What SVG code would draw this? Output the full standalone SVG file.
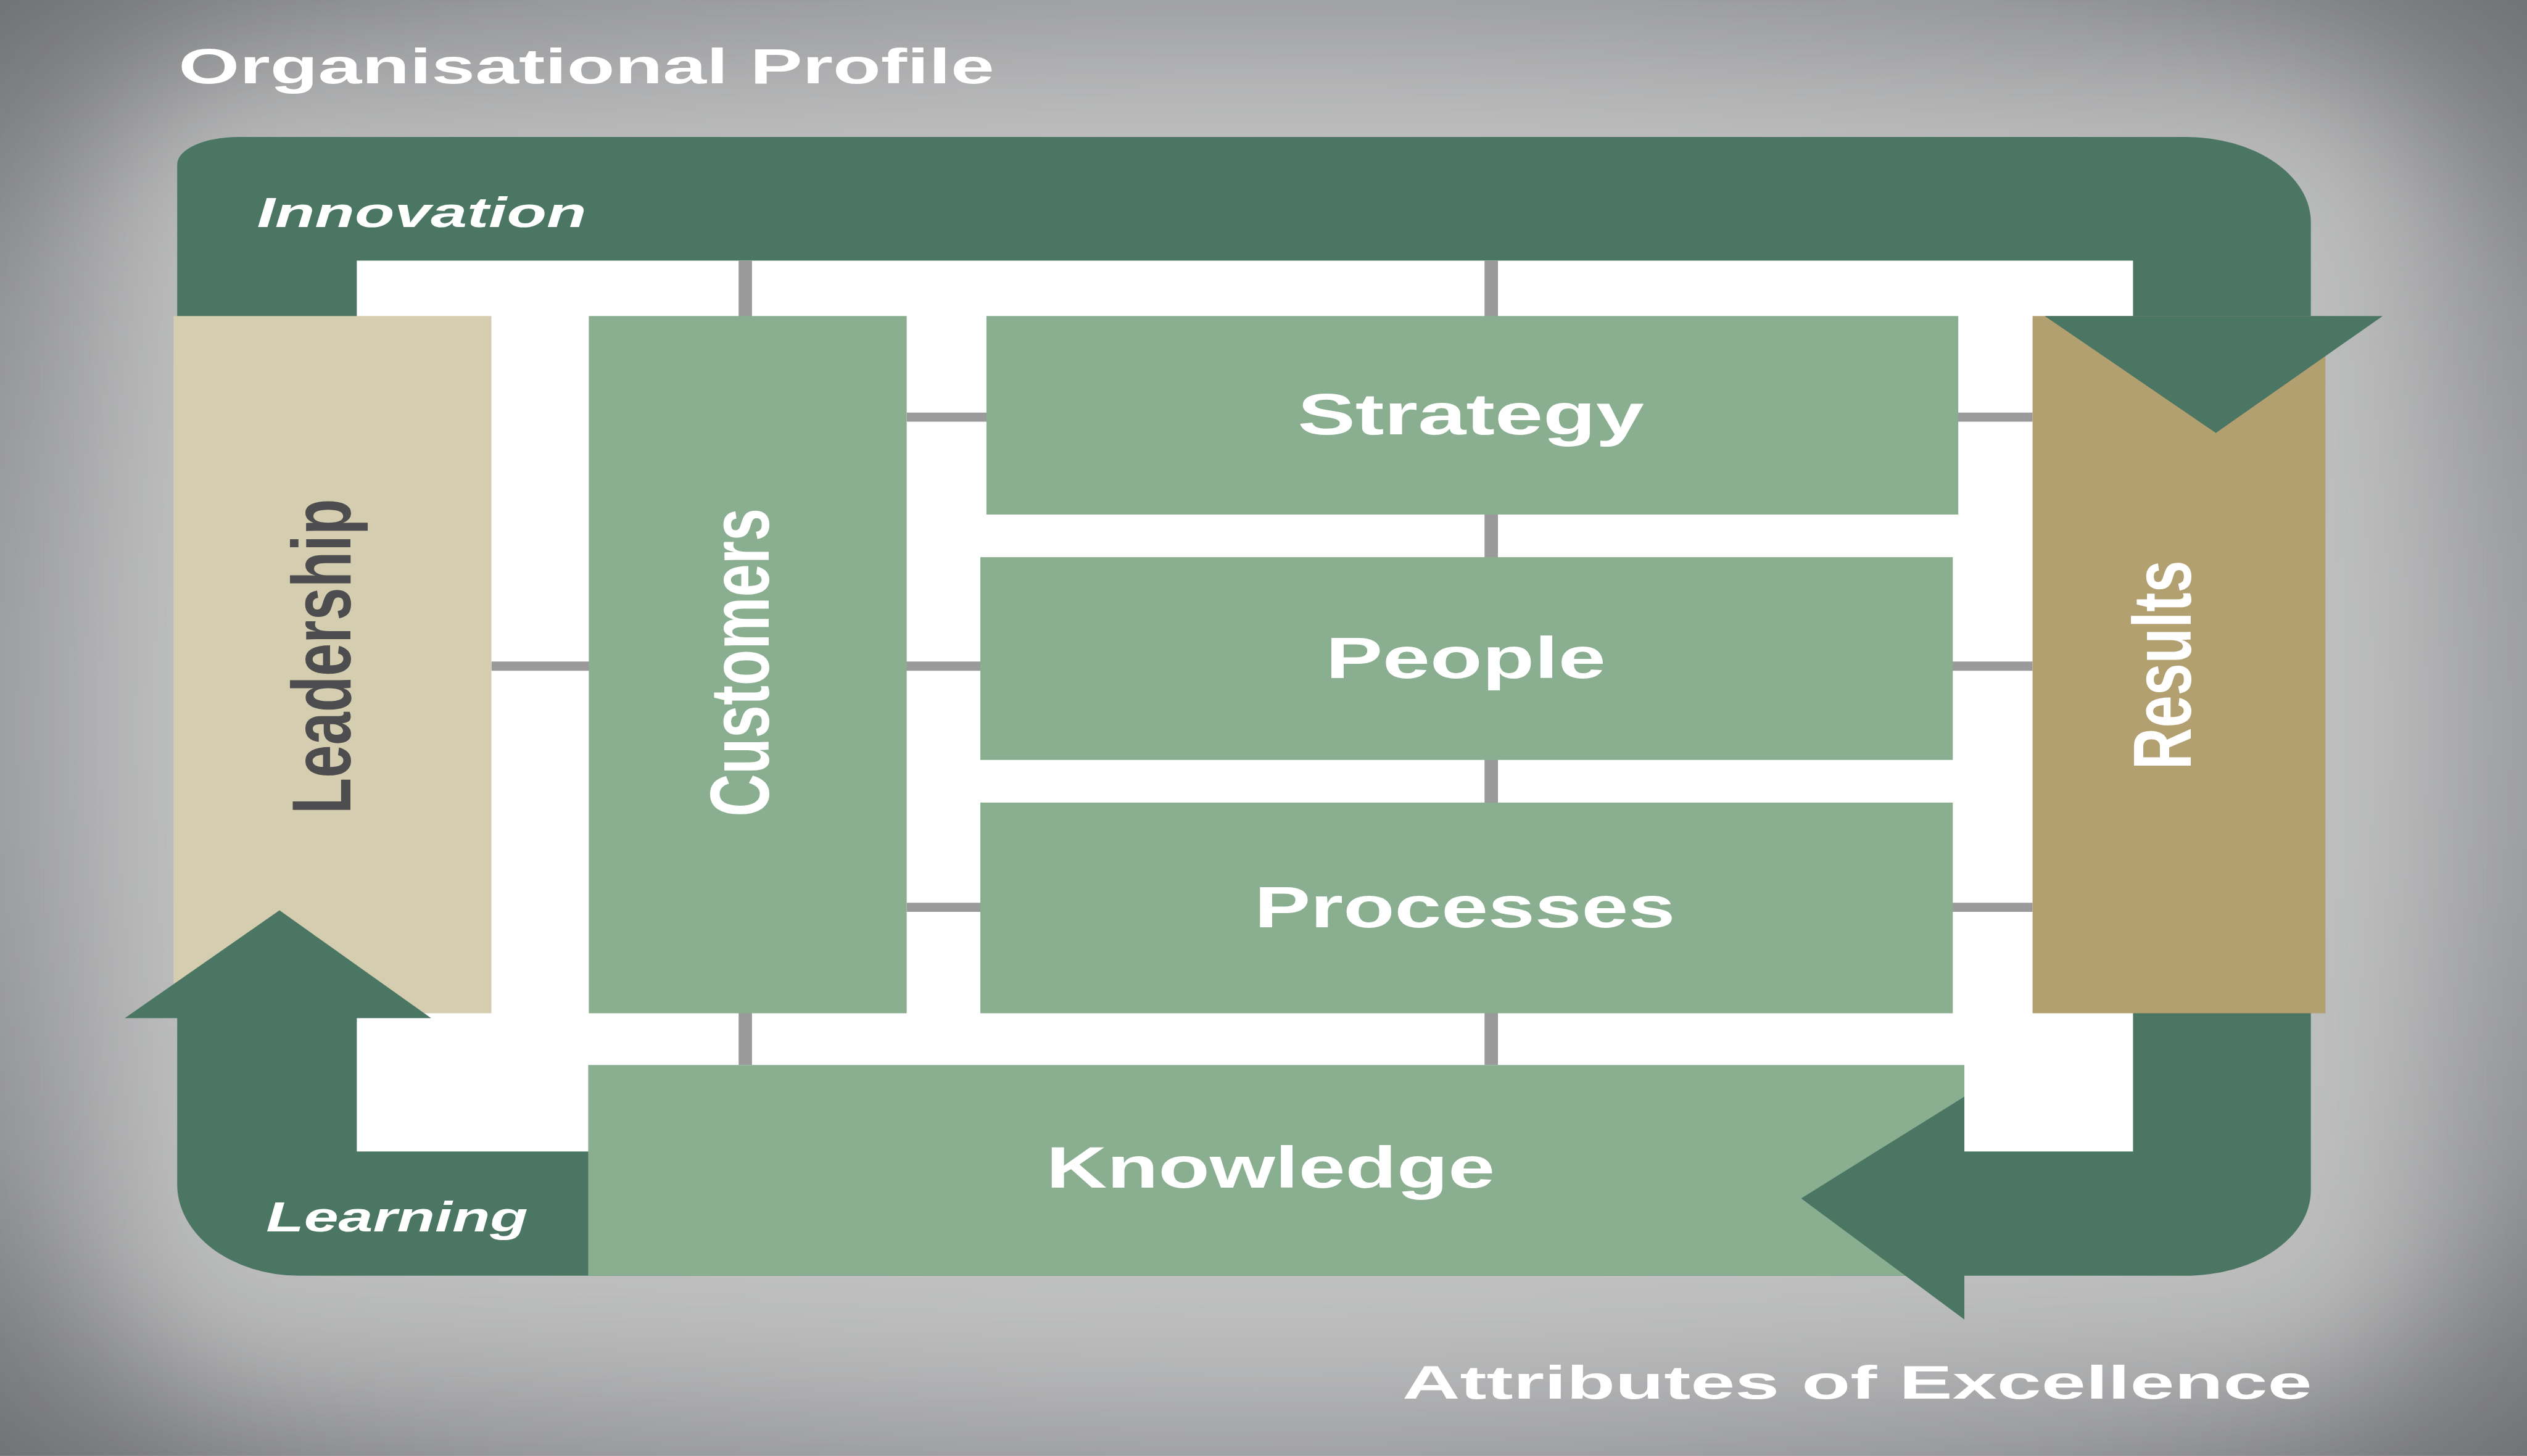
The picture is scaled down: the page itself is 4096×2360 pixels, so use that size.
<svg xmlns="http://www.w3.org/2000/svg" width="4096" height="2360" viewBox="0 0 4096 2360">
  <defs>
    <radialGradient id="bgGrad" cx="50%" cy="50%" r="72%">
      <stop offset="0" stop-color="#b9babb"/>
      <stop offset="0.55" stop-color="#abacae"/>
      <stop offset="0.8" stop-color="#929395"/>
      <stop offset="1" stop-color="#6f7072"/>
    </radialGradient>
    <filter id="haloBlur" x="-20%" y="-20%" width="140%" height="140%">
      <feGaussianBlur stdDeviation="120"/>
    </filter>
    <style>
      .label { font-family: "Liberation Sans", Arial, Helvetica, sans-serif; font-weight: bold; }
      .white { fill: #ffffff; }
      .band { fill: #4a7663; }
      .box { fill: #8aae90; }
      .link { stroke: #9a9a9a; fill: none; }
      .v { stroke-width: 22; }
      .h { stroke-width: 15; }
    </style>
  </defs>

  <g transform="scale(0.98699)">
    <!-- backdrop with a soft light halo behind the frame -->
    <rect x="0" y="0" width="4150" height="2391" fill="url(#bgGrad)"/>
    <rect x="170" y="130" width="3810" height="2140" rx="260" fill="#c4c5c5" opacity="0.85" filter="url(#haloBlur)"/>

    <!-- outer headings -->
    <text class="label white" x="293" y="137" font-size="80" textLength="1340" lengthAdjust="spacingAndGlyphs">Organisational Profile</text>
    <text class="label white" x="2303" y="2297" font-size="77" textLength="1494" lengthAdjust="spacingAndGlyphs">Attributes of Excellence</text>

    <!-- innovation / learning cycle band -->
    <g id="cycle">
      <path class="band" d="M291,270 A100,45 0 0 1 391,225 H3590 A205,140 0 0 1 3795,365 V1955 A205,140 0 0 1 3590,2095 H491 A200,150 0 0 1 291,1945 Z"/>
      <rect x="586" y="428" width="2917" height="1463" fill="#ffffff"/>
      <text class="label white" x="422" y="373" font-size="70" font-style="italic" textLength="541" lengthAdjust="spacingAndGlyphs">Innovation</text>
      <text class="label white" x="437" y="2022" font-size="70" font-style="italic" textLength="430" lengthAdjust="spacingAndGlyphs">Learning</text>
    </g>

    <!-- grid connectors -->
    <g id="connectors">
      <line class="link v" x1="1224" y1="428" x2="1224" y2="1749"/>
      <line class="link v" x1="2449" y1="428" x2="2449" y2="1749"/>
      <line class="link h" x1="1489" y1="685" x2="3338" y2="685"/>
      <line class="link h" x1="807" y1="1094" x2="3338" y2="1094"/>
      <line class="link h" x1="1489" y1="1490" x2="3338" y2="1490"/>
    </g>

    <g id="leadership">
      <rect x="285" y="519" width="522" height="1145" fill="#d5cdb0"/>
      <text class="label" fill="#4d4d4f" font-size="97" text-anchor="middle" transform="translate(575,1078) scale(1.42,1) rotate(-90)">Leadership</text>
    </g>

    <g id="customers">
      <rect class="box" x="967" y="519" width="522" height="1145"/>
      <text class="label white" font-size="97" text-anchor="middle" transform="translate(1262,1088) scale(1.42,1) rotate(-90)">Customers</text>
    </g>

    <g id="strategy">
      <rect class="box" x="1620" y="519" width="1596" height="326"/>
      <text class="label white" x="2131" y="713" font-size="95" textLength="569" lengthAdjust="spacingAndGlyphs">Strategy</text>
    </g>

    <g id="people">
      <rect class="box" x="1610" y="915" width="1597" height="333"/>
      <text class="label white" x="2177" y="1113" font-size="95" textLength="460" lengthAdjust="spacingAndGlyphs">People</text>
    </g>

    <g id="processes">
      <rect class="box" x="1610" y="1318" width="1597" height="346"/>
      <text class="label white" x="2060" y="1523" font-size="95" textLength="691" lengthAdjust="spacingAndGlyphs">Processes</text>
    </g>

    <g id="results">
      <rect x="3338" y="519" width="481" height="1145" fill="#b3a070"/>
      <text class="label white" font-size="95" text-anchor="middle" transform="translate(3598,1092) scale(1.42,1) rotate(-90)">Results</text>
    </g>

    <g id="knowledge">
      <rect class="box" x="966" y="1749" width="2260" height="346"/>
      <text class="label white" x="1718" y="1950" font-size="95" textLength="737" lengthAdjust="spacingAndGlyphs">Knowledge</text>
    </g>

    <!-- arrowheads of the cycle -->
    <g id="cycle-arrows">
      <polygon class="band" points="3358,519 3913,519 3639,711"/>
      <polygon class="band" points="3226,1801 3226,2167 2958,1968"/>
      <polygon class="band" points="205,1672 708,1672 459,1495"/>
    </g>
  </g>
</svg>
